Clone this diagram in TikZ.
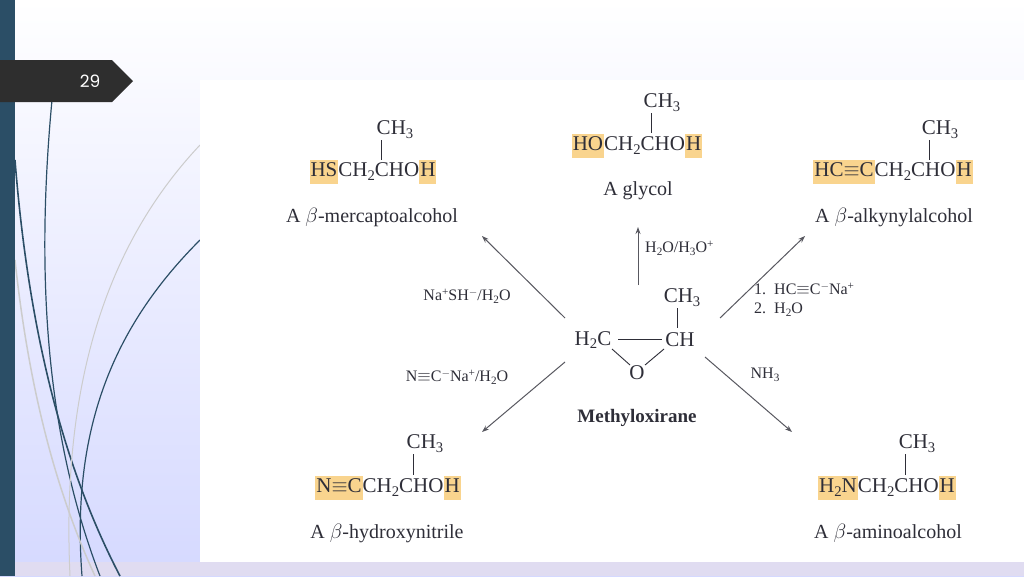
\documentclass[tikz,border=0pt]{standalone}
\usepackage{fontspec}
\setmainfont{Liberation Serif}
\newfontfamily\numfont{Poppins}
\usetikzlibrary{arrows.meta}
\definecolor{hlc}{HTML}{F9D48E}
\definecolor{txt}{HTML}{2E2E38}
\definecolor{barc}{HTML}{2B4E66}
\newcommand{\hl}[1]{{\setlength{\fboxsep}{1pt}\colorbox{hlc}{\strut #1}}}
\newcommand{\sbs}[1]{\raisebox{-0.4ex}{\fontsize{0.7em}{1em}\selectfont #1}}
\newcommand{\sps}[1]{\raisebox{0.7ex}{\fontsize{0.7em}{1em}\selectfont #1}}
\newcommand{\tb}{$\equiv$}
\begin{document}
\begin{tikzpicture}[x=1pt,y=-1pt,
  big/.style={font=\fontsize{21}{22}\selectfont,text=txt,inner sep=0pt},
  lab/.style={font=\fontsize{20}{22}\selectfont,text=txt,inner sep=0pt},
  rg/.style={font=\fontsize{16}{18}\selectfont,text=txt,inner sep=0pt},
  bond/.style={draw=txt,line width=0.9pt},
  arr/.style={draw=txt!80,line width=1pt,-{Stealth[length=7pt,width=5pt]}},
  curve/.style={draw=barc,line width=#1}]
\useasboundingbox (0,0) rectangle (1024,576);
\shade[top color=white,bottom color=white!70!cyan!25!blue!20] (0,0) rectangle (1024,576);
\fill[white!70!cyan!30!blue!15] (0,562) rectangle (1024,576);
% decorative curves
\draw[curve=1.2pt] (52,100) .. controls (38,250) and (40,420) .. (100,576);
\draw[curve=1.6pt] (15,160) .. controls (30,350) and (70,480) .. (120,576);
\draw[curve=1.2pt] (200,240) .. controls (120,320) and (70,420) .. (82,576);
\draw[gray!40,line width=1pt] (200,145) .. controls (120,230) and (60,360) .. (70,576);
\draw[gray!40,line width=1.5pt] (15,260) .. controls (30,400) and (60,500) .. (95,576);
\fill[barc] (0,0) rectangle (15,576);
\fill[black!82] (0,60) -- (112,60) -- (133,81) -- (112,102) -- (0,102) -- cycle;
\node[text=white,font=\numfont\fontsize{17}{18}\selectfont] (num) at (90,81) {29};
\fill[white] (200,80) rectangle (1024,562);
% top-left
\node[big] (tlc) at (395,130) {CH\sbs{3}};
\node[big] (tlf) at (373,172) {\hl{HS}CH\sbs{2}CHO\hl{H}};
\node[lab] (tll) at (372,217) {A $\beta$-mercaptoalcohol};
\draw[bond] (381,140) -- (381,160);
% top
\node[big] (tc) at (662,103) {CH\sbs{3}};
\node[big] (tf) at (637,146) {\hl{HO}CH\sbs{2}CHO\hl{H}};
\node[lab] (tl) at (638,191) {A glycol};
\draw[bond] (651,113) -- (651,133);
% top-right
\node[big] (trc) at (940,130) {CH\sbs{3}};
\node[big] (trf) at (893,172) {\hl{HC\tb C}CH\sbs{2}CHO\hl{H}};
\node[lab] (trl) at (894,217) {A $\beta$-alkynylalcohol};
\draw[bond] (929,140) -- (929,160);
% bottom-left
\node[big] (blc) at (425,444) {CH\sbs{3}};
\node[big] (blf) at (388,488) {\hl{N\tb C}CH\sbs{2}CHO\hl{H}};
\node[lab] (bll) at (387,533) {A $\beta$-hydroxynitrile};
\draw[bond] (413,454) -- (413,475);
% bottom-right
\node[big] (brc) at (917,444) {CH\sbs{3}};
\node[big] (brf) at (887,488) {\hl{H\sbs{2}N}CH\sbs{2}CHO\hl{H}};
\node[lab] (brl) at (888,533) {A $\beta$-aminoalcohol};
\draw[bond] (905,454) -- (905,475);
% center
\node[big] (h2c) at (593,340) {H\sbs{2}C};
\node[big] (ch) at (680,340) {CH};
\node[big] (mc) at (682,298) {CH\sbs{3}};
\node[big] (o) at (637,373) {O};
\draw[bond] (618,339) -- (662,339);
\draw[bond] (677,308) -- (677,328);
\draw[bond] (612,349) -- (630,365);
\draw[bond] (645,365) -- (664,349);
\node[big,font=\bfseries\fontsize{19}{20}\selectfont] (mo) at (637,418) {Methyloxirane};
% arrows
\coordinate (a1s) at (638,285); \coordinate (a1e) at (638,227);
\coordinate (a2s) at (565,318); \coordinate (a2e) at (482,236);
\coordinate (a3s) at (720,318); \coordinate (a3e) at (805,236);
\coordinate (a4s) at (565,362); \coordinate (a4e) at (482,432);
\coordinate (a5s) at (705,357); \coordinate (a5e) at (792,432);
\draw[arr] (a1s) -- (a1e);
\draw[arr] (a2s) -- (a2e);
\draw[arr] (a3s) -- (a3e);
\draw[arr] (a4s) -- (a4e);
\draw[arr] (a5s) -- (a5e);
% reagents
\node[rg] (r1) at (467,296) {Na\sps{+}SH\sps{$-$}/H\sbs{2}O};
\node[rg] (r2) at (457,377) {N\tb C\sps{$-$}Na\sps{+}/H\sbs{2}O};
\node[rg,anchor=west] (r3) at (645,248) {H\sbs{2}O/H\sbs{3}O\sps{+}};
\node[rg,anchor=west] (r4) at (754,289) {1.\ \ HC\tb C\sps{$-$}Na\sps{+}};
\node[rg,anchor=west] (r5) at (754,310) {2.\ \ H\sbs{2}O};
\node[rg] (r6) at (765,375) {NH\sbs{3}};
\end{tikzpicture}
\end{document}
